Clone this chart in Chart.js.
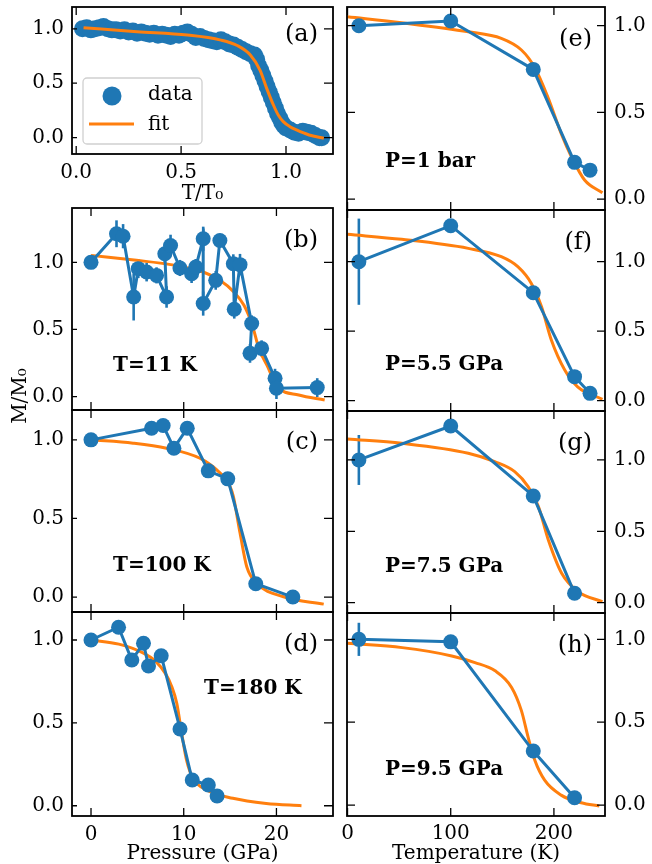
<!DOCTYPE html>
<html lang="en">
<head>
<meta charset="utf-8">
<title>M/M0 versus pressure and temperature</title>
<script src="https://cdn.jsdelivr.net/npm/chart.js"></script>
<style>
  html, body { margin: 0; padding: 0; background: #fff; }
  body { position: relative; width: 652px; height: 864px; overflow: hidden; }
  canvas { position: absolute; left: 0; top: 0; }
</style>
</head>
<body>
<canvas id="pa" width="652" height="864"></canvas>
<canvas id="pb" width="652" height="864"></canvas>
<canvas id="pc" width="652" height="864"></canvas>
<canvas id="pd" width="652" height="864"></canvas>
<canvas id="pe" width="652" height="864"></canvas>
<canvas id="pf" width="652" height="864"></canvas>
<canvas id="pg" width="652" height="864"></canvas>
<canvas id="ph" width="652" height="864"></canvas>

<script>
// (a) all scans collapsed onto T/T0
const scaledT = [0.03, 0.05, 0.07, 0.09, 0.11, 0.13, 0.15, 0.17, 0.19, 0.21,
                 0.23, 0.25, 0.27, 0.29, 0.31, 0.33, 0.35, 0.37, 0.39, 0.41,
                 0.43, 0.45, 0.47, 0.49, 0.51, 0.53, 0.55, 0.57, 0.59, 0.61,
                 0.63, 0.65, 0.67, 0.69, 0.71, 0.73, 0.75, 0.77, 0.79, 0.81,
                 0.83, 0.85, 0.86, 0.87, 0.88, 0.89, 0.90, 0.91, 0.92, 0.93,
                 0.94, 0.95, 0.96, 0.97, 0.98, 0.99, 1.00, 1.02, 1.04, 1.06,
                 1.08, 1.10, 1.12, 1.14, 1.16, 1.17];
const scaledM = [1.00, 1.01, 0.99, 1.00, 1.01, 1.02, 1.00, 0.99, 0.99, 0.98,
                 0.99, 0.97, 0.98, 0.96, 0.97, 0.96, 0.95, 0.96, 0.94, 0.95,
                 0.94, 0.93, 0.95, 0.94, 0.96, 0.97, 0.95, 0.92, 0.93, 0.91,
                 0.90, 0.89, 0.88, 0.90, 0.88, 0.86, 0.85, 0.83, 0.81, 0.79,
                 0.77, 0.76, 0.72, 0.66, 0.62, 0.57, 0.52, 0.47, 0.42, 0.37,
                 0.32, 0.27, 0.22, 0.18, 0.14, 0.11, 0.09, 0.07, 0.05, 0.04,
                 0.06, 0.05, 0.04, 0.02, 0.00, 0.00];
const scaledFitT = [0.035, 0.29, 0.53, 0.69, 0.77, 0.83, 0.876, 0.908, 0.94, 0.963, 0.987, 1.019, 1.05, 1.11, 1.18];
const scaledFitM = [1.01, 0.973, 0.942, 0.896, 0.844, 0.759, 0.621, 0.453, 0.30, 0.208, 0.147, 0.101, 0.071, 0.025, -0.005];

// (b)-(d) pressure scans, GPa
const p11K = [0, 2.75, 3.46, 4.6, 5.1, 6.0, 7.07, 8.15, 7.96, 8.58, 9.59, 10.85, 11.3,
              12.1, 12.1, 13.45, 13.9, 15.35, 15.45, 16.07, 17.33, 17.15, 18.4, 19.85, 20.0, 24.4];
const m11K = [1.0, 1.213, 1.195, 0.742, 0.953, 0.928, 0.903, 0.742, 1.064, 1.126, 0.958, 0.916, 0.965,
              1.176, 0.693, 0.866, 1.163, 0.99, 0.651, 0.983, 0.545, 0.322, 0.359, 0.137, 0.062, 0.067];
const err11K = [0, 0.1, 0.09, 0.175, 0.07, 0.07, 0.06, 0.08, 0.07, 0.08, 0.06, 0.07, 0.06,
                0.09, 0.09, 0.07, 0.05, 0.07, 0.07, 0.08, 0.06, 0.07, 0.06, 0.07, 0.08, 0.07];
const fitP11K = [0, 4.9, 8.6, 12.1, 13.9, 15.4, 16.5, 17.4, 18.1, 19.0, 20.1, 22.4, 25.2];
const fitM11K = [1.052, 1.015, 0.983, 0.928, 0.866, 0.78, 0.68, 0.532, 0.36, 0.23, 0.074, 0.012, -0.025];

const p100K = [0, 6.53, 7.78, 8.94, 10.38, 12.65, 14.75, 17.77, 21.77];
const m100K = [1.0, 1.074, 1.091, 0.947, 1.074, 0.803, 0.752, 0.085, 0.0];
const fitP100K = [0, 4.54, 8.15, 11.75, 13.56, 15.0, 15.35, 16.08, 16.8, 17.9, 20.76, 25.1];
const fitM100K = [1.0, 0.979, 0.947, 0.883, 0.809, 0.703, 0.64, 0.406, 0.193, 0.087, 0.002, -0.045];

const p180K = [0, 2.97, 4.4, 5.66, 6.2, 7.57, 9.6, 10.92, 12.65, 13.6];
const m180K = [1.0, 1.077, 0.879, 0.98, 0.843, 0.905, 0.463, 0.155, 0.125, 0.059];
const fitP180K = [0, 3.0, 5.5, 7.0, 8.0, 8.7, 9.25, 9.78, 10.3, 11.0, 12.47, 15.3, 18.9, 22.7];
const fitM180K = [1.0, 0.975, 0.925, 0.87, 0.80, 0.72, 0.618, 0.437, 0.276, 0.165, 0.095, 0.045, 0.014, 0.0];

// (e)-(h) temperature scans, K
const t1bar = [11, 100, 180, 220, 235];
const m1bar = [1.0, 1.027, 0.748, 0.212, 0.167];
const fitT1bar = [0, 52.5, 117, 149, 168.5, 181, 194, 207, 217, 229.7, 247];
const fitM1bar = [1.052, 1.017, 0.965, 0.927, 0.86, 0.763, 0.59, 0.379, 0.244, 0.11, 0.036];

const t55 = [11, 100, 180, 220, 235];
const m55 = [1.0, 1.259, 0.777, 0.173, 0.053];
const err55 = [0.31, 0, 0, 0, 0];
const fitT55 = [0, 52.5, 117, 149, 165, 178, 188, 197.5, 210.5, 223, 247];
const fitM55 = [1.197, 1.161, 1.096, 1.036, 0.964, 0.845, 0.676, 0.437, 0.221, 0.1, 0.01];

const t75 = [11, 100, 180, 220];
const m75 = [1.0, 1.238, 0.748, 0.066];
const err75 = [0.175, 0, 0, 0];
const fitT75 = [0, 52.5, 117, 142.7, 162, 175, 185, 194.6, 207.5, 223.5, 247];
const fitM75 = [1.147, 1.117, 1.047, 0.988, 0.918, 0.813, 0.673, 0.439, 0.206, 0.077, 0.007];

const t95 = [11, 100, 180, 220];
const m95 = [1.0, 0.985, 0.326, 0.044];
const err95 = [0.1, 0, 0, 0];
const fitT95 = [0, 53, 101, 123.5, 143, 159, 168.5, 175, 181.5, 191, 207, 226.5, 244];
const fitM95 = [0.976, 0.95, 0.9, 0.86, 0.81, 0.71, 0.57, 0.41, 0.27, 0.15, 0.06, 0.014, -0.006];

const BLUE = '#1f77b4';
const ORANGE = '#ff7f0e';
const SERIF = '"DejaVu Serif"';
Chart.defaults.font.family = 'DejaVu Serif';
Chart.defaults.font.size = 20;
Chart.defaults.color = '#000';

function xy(xs, ys) { return xs.map((x, i) => ({ x: x, y: ys[i] })); }

function dataSet(xs, ys, errs, line, r) {
  return {
    data: xy(xs, ys), yErr: errs, showLine: line,
    borderColor: BLUE, backgroundColor: BLUE, borderWidth: 3,
    pointRadius: r || 7.5, pointBorderWidth: 0, pointBackgroundColor: BLUE
  };
}
function fitSet(xs, ys) {
  return {
    data: xy(xs, ys), showLine: true, borderColor: ORANGE, borderWidth: 3,
    pointRadius: 0, cubicInterpolationMode: 'monotone'
  };
}

const fmt1 = v => v.toFixed(1);
const fmt0 = v => String(v);

function makePanel(id, p) {
  const onLeft = p.col === 'left';
  const yW = 40;
  const [L, T, R, B] = p.box;
  const tk = onLeft ? { left: 5, right: 9, top: 8, bottom: 8 } : { left: 8, right: 8, top: 8, bottom: 8 };

  const deco = {
    id: 'deco',
    beforeDatasetsDraw(chart) {
      const { ctx, chartArea: a, scales: { x, y } } = chart;
      ctx.save();
      ctx.beginPath();
      ctx.rect(a.left, a.top, a.right - a.left, a.bottom - a.top);
      ctx.clip();
      chart.data.datasets.forEach(ds => {
        if (!ds.yErr) return;
        ctx.strokeStyle = ds.borderColor;
        ctx.lineWidth = 2.6;
        ds.data.forEach((d, i) => {
          const e = ds.yErr[i];
          if (!e) return;
          const px = x.getPixelForValue(d.x);
          ctx.beginPath();
          ctx.moveTo(px, y.getPixelForValue(d.y - e));
          ctx.lineTo(px, y.getPixelForValue(d.y + e));
          ctx.stroke();
        });
      });
      ctx.restore();
    },
    afterDatasetsDraw(chart) {
      const { ctx, chartArea: a, scales: { x, y } } = chart;
      ctx.save();
      ctx.strokeStyle = '#000';
      ctx.lineWidth = 1.3;
      ctx.beginPath();
      x.ticks.forEach(t => {
        const px = x.getPixelForValue(t.value);
        ctx.moveTo(px, a.bottom); ctx.lineTo(px, a.bottom - tk.bottom);
        ctx.moveTo(px, a.top); ctx.lineTo(px, a.top + tk.top);
      });
      y.ticks.forEach(t => {
        const py = y.getPixelForValue(t.value);
        ctx.moveTo(a.left, py); ctx.lineTo(a.left + tk.left, py);
        ctx.moveTo(a.right, py); ctx.lineTo(a.right - tk.right, py);
      });
      ctx.stroke();
      ctx.lineWidth = 1.8;
      ctx.strokeRect(a.left, a.top, a.right - a.left, a.bottom - a.top);
      ctx.restore();
    },
    afterDraw(chart) {
      const { ctx, chartArea: a } = chart;
      ctx.save();
      ctx.fillStyle = '#000';
      ctx.textBaseline = 'middle';
      ctx.font = '24px ' + SERIF;
      ctx.textAlign = 'right';
      ctx.fillText(p.letter, a.right - (onLeft ? 15 : 13), a.top + (p.letterDy || 33));
      if (p.note) {
        ctx.font = 'bold 20px ' + SERIF;
        ctx.textAlign = 'left';
        ctx.fillText(p.note.text, a.left + p.note.dx, a.top + p.note.dy);
      }
      if (p.extra) p.extra(chart, ctx, a);
      ctx.restore();
    }
  };

  return new Chart(document.getElementById(id), {
    type: 'scatter',
    data: { datasets: p.datasets },
    options: {
      responsive: false,
      animation: false,
      events: [],
      layout: {
        autoPadding: false,
        padding: {
          left: onLeft ? L - yW : L,
          right: onLeft ? 652 - R : 652 - R - yW,
          top: T,
          bottom: 864 - B - p.xh
        }
      },
      scales: {
        x: {
          type: 'linear', min: p.xr[0], max: p.xr[1],
          grid: { display: false, drawTicks: false },
          border: { display: false },
          ticks: { display: p.xh > 0, stepSize: p.xStep, includeBounds: false,
                   padding: p.xPad || 7, callback: p.xFmt, maxRotation: 0 },
          title: p.xTitle
            ? { display: true, text: p.xTitle, font: { size: 20, lineHeight: p.xTitleLH || 1.2 },
                padding: { top: 0, bottom: p.xTitlePad || 0 } }
            : { display: false },
          afterFit: s => { s.height = p.xh; s.paddingLeft = 0; s.paddingRight = 0; }
        },
        y: {
          type: 'linear', position: onLeft ? 'left' : 'right', min: p.yr[0], max: p.yr[1],
          grid: { display: false, drawTicks: false },
          border: { display: false },
          ticks: { stepSize: 0.5, includeBounds: false, padding: onLeft ? 8 : 9, callback: fmt1 },
          afterFit: s => { s.width = yW; s.paddingTop = 0; s.paddingBottom = 0; }
        }
      },
      plugins: { legend: { display: false }, tooltip: { enabled: false } }
    },
    plugins: [deco]
  });
}

const pressRange = [-2.05, 26.1];
const tempRange = [-0.5, 249.5];

makePanel('pa', {
  col: 'left', box: [72, 7, 333, 154], xr: [-0.02, 1.224], yr: [-0.15, 1.2],
  xStep: 0.5, xFmt: fmt1, xh: 54, xPad: 7, xTitle: 'T/T\u2080', xTitlePad: 2,
  letter: '(a)', letterDy: 28,
  datasets: [fitSet(scaledFitT, scaledFitM), dataSet(scaledT, scaledM, null, false, 8.5)],
  extra(chart, ctx, a) {
    // legend box
    const bx = a.left + 11, by = a.top + 71, bw = 119, bh = 66, r = 4;
    ctx.beginPath();
    ctx.moveTo(bx + r, by);
    ctx.arcTo(bx + bw, by, bx + bw, by + bh, r);
    ctx.arcTo(bx + bw, by + bh, bx, by + bh, r);
    ctx.arcTo(bx, by + bh, bx, by, r);
    ctx.arcTo(bx, by, bx + bw, by, r);
    ctx.closePath();
    ctx.fillStyle = 'rgba(255,255,255,0.8)';
    ctx.fill();
    ctx.strokeStyle = '#d0d0d0';
    ctx.lineWidth = 1.3;
    ctx.stroke();
    ctx.fillStyle = BLUE;
    ctx.beginPath();
    ctx.arc(a.left + 40, a.top + 89, 9.5, 0, Math.PI * 2);
    ctx.fill();
    ctx.strokeStyle = ORANGE;
    ctx.lineWidth = 3;
    ctx.beginPath();
    ctx.moveTo(a.left + 17, a.top + 117);
    ctx.lineTo(a.left + 62, a.top + 117);
    ctx.stroke();
    ctx.fillStyle = '#000';
    ctx.font = '20px ' + SERIF;
    ctx.textAlign = 'left';
    ctx.fillText('data', a.left + 76, a.top + 88);
    ctx.fillText('fit', a.left + 76, a.top + 118);
  }
});

makePanel('pb', {
  col: 'left', box: [72, 208, 333, 410], xr: pressRange, yr: [-0.1, 1.405],
  xStep: 10, xFmt: fmt0, xh: 0,
  letter: '(b)', note: { text: 'T=11 K', dx: 41, dy: 158 },
  datasets: [dataSet(p11K, m11K, err11K, true), fitSet(fitP11K, fitM11K)],
  extra(chart, ctx) {
    // figure-level y label, shared by all panels
    ctx.save();
    ctx.translate(21, 396);
    ctx.rotate(-Math.PI / 2);
    ctx.font = '20px ' + SERIF;
    ctx.textAlign = 'center';
    ctx.fillText('M/M\u2080', 0, 0);
    ctx.restore();
  }
});

makePanel('pc', {
  col: 'left', box: [72, 410, 333, 612], xr: pressRange, yr: [-0.095, 1.19],
  xStep: 10, xFmt: fmt0, xh: 0,
  letter: '(c)', note: { text: 'T=100 K', dx: 41, dy: 156 },
  datasets: [dataSet(p100K, m100K, null, true), fitSet(fitP100K, fitM100K)]
});

makePanel('pd', {
  col: 'left', box: [72, 612, 333, 816], xr: pressRange, yr: [-0.062, 1.169],
  xStep: 10, xFmt: fmt0, xh: 48, xPad: 7, xTitle: 'Pressure (GPa)', xTitleLH: 1,
  letter: '(d)', note: { text: 'T=180 K', dx: 132, dy: 77 },
  datasets: [dataSet(p180K, m180K, null, true), fitSet(fitP180K, fitM180K)]
});

makePanel('pe', {
  col: 'right', box: [347, 7, 605, 210], xr: tempRange, yr: [-0.063, 1.108],
  xStep: 100, xFmt: fmt0, xh: 0,
  letter: '(e)', note: { text: 'P=1 bar', dx: 38, dy: 155 },
  datasets: [dataSet(t1bar, m1bar, null, true), fitSet(fitT1bar, fitM1bar)]
});

makePanel('pf', {
  col: 'right', box: [347, 210, 605, 411], xr: tempRange, yr: [-0.074, 1.372],
  xStep: 100, xFmt: fmt0, xh: 0,
  letter: '(f)', note: { text: 'P=5.5 GPa', dx: 38, dy: 155 },
  datasets: [dataSet(t55, m55, err55, true), fitSet(fitT55, fitM55)]
});

makePanel('pg', {
  col: 'right', box: [347, 411, 605, 613], xr: tempRange, yr: [-0.072, 1.343],
  xStep: 100, xFmt: fmt0, xh: 0,
  letter: '(g)', note: { text: 'P=7.5 GPa', dx: 38, dy: 156 },
  datasets: [dataSet(t75, m75, err75, true), fitSet(fitT75, fitM75)]
});

makePanel('ph', {
  col: 'right', box: [347, 613, 605, 816], xr: tempRange, yr: [-0.066, 1.159],
  xStep: 100, xFmt: fmt0, xh: 48, xPad: 6, xTitle: 'Temperature (K)', xTitleLH: 1,
  letter: '(h)', note: { text: 'P=9.5 GPa', dx: 38, dy: 157 },
  datasets: [dataSet(t95, m95, err95, true), fitSet(fitT95, fitM95)]
});
</script>
</body>
</html>
